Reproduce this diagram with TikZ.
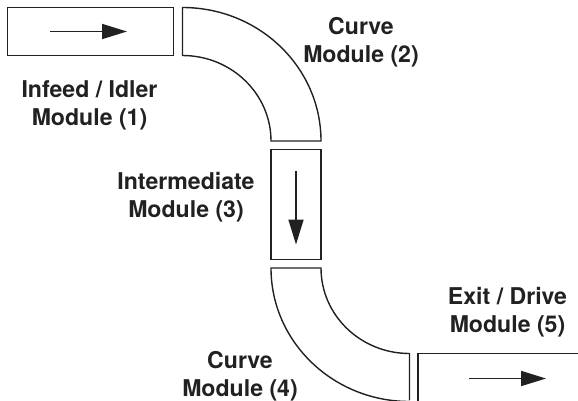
\documentclass[tikz,border=0pt]{standalone}
\usepackage{fontspec}
\setmainfont{TeX Gyre Heros}
\usetikzlibrary{arrows.meta}
\definecolor{inkdark}{gray}{0.13}
\tikzset{
    module/.style={draw=inkdark, line width=1.4pt, line join=miter},
    flow/.style={draw=inkdark, line width=1.7pt, -{Triangle[length=25pt,width=15pt]}},
    label/.style={inkdark, align=center, font=\bfseries\fontsize{23.1}{28}\selectfont}
}
\begin{document}
\begin{tikzpicture}[x=1pt,y=-1pt]
    \useasboundingbox (0,0) rectangle (578,400);
    \clip (0,0) rectangle (578,400);

    % Modules
    \draw[module] (7.5,7.5) rectangle (173.5,55.5);
    \draw[module] (182.5,7.5) arc[start angle=90, end angle=0, x radius=138.5, y radius=-133.5]
        -- (271,141) arc[start angle=0, end angle=90, x radius=88.5, y radius=-85.5] -- cycle;
    \draw[module] (271,149.5) rectangle (321,259.5);
    \draw[module] (409.5,400) -- (409.5,353.5)
        arc[start angle=270, end angle=180, x radius=88.5, y radius=-85.5]
        -- (271,268) arc[start angle=180, end angle=270, x radius=138.5, y radius=-133.5];
    \draw[module] (418,420) -- (418,353.5) -- (590,353.5);

    % Direction arrows
    \coordinate (in1) at (50,31.5);
    \coordinate (out1) at (127,31.5);
    \coordinate (in3) at (296,171);
    \coordinate (out3) at (296,244.5);
    \coordinate (in5) at (469,378.5);
    \coordinate (out5) at (546,378.5);
    \draw[flow] (in1) -- (out1);
    \draw[flow] (in3) -- (out3);
    \draw[flow] (in5) -- (out5);

    % Labels
    \node[label] (infeed) at (89.5,105) {Infeed / Idler\\Module (1)};
    \node[label] (curvea) at (361,42.5) {Curve\\Module (2)};
    \node[label] (inter) at (186,197.5) {Intermediate\\Module (3)};
    \node[label] (curveb) at (240,376) {Curve\\Module (4)};
    \node[label] (exit) at (507.5,312) {Exit / Drive\\Module (5)};
\end{tikzpicture}
\end{document}
